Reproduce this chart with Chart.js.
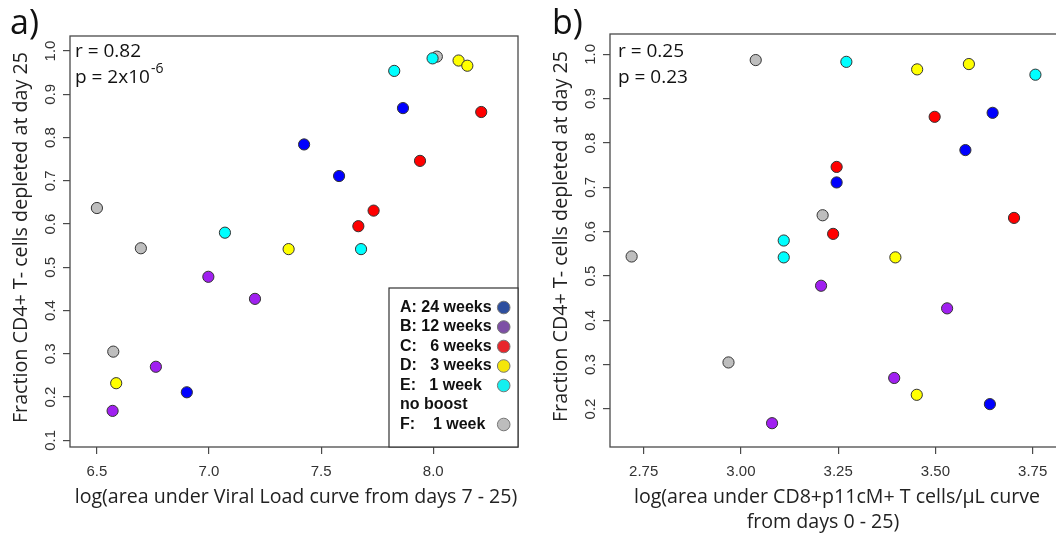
<!DOCTYPE html>
<html>
<head>
<meta charset="utf-8">
<script src="https://cdn.jsdelivr.net/npm/chart.js@4.4.1/dist/chart.umd.min.js"></script>
<style>
  html, body { margin: 0; padding: 0; background: #fff; overflow: hidden; width: 1056px; height: 535px; }
  #wrapA { position: absolute; left: 0; top: 0; width: 530px; height: 535px; }
  #wrapB { position: absolute; left: 530px; top: 0; width: 530px; height: 535px; }
</style>
</head>
<body>
<div id="wrapA"><canvas id="chartA" width="530" height="535"></canvas></div>
<div id="wrapB"><canvas id="chartB" width="530" height="535"></canvas></div>
<script>
// fraction of CD4+ T cells depleted at day 25, one array per group
const depA = [0.784, 0.711, 0.868, 0.211];
const depB = [0.478, 0.427, 0.270, 0.168];
const depC = [0.631, 0.595, 0.746, 0.859];
const depD = [0.542, 0.978, 0.966, 0.232];
const depE = [0.580, 0.542, 0.954, 0.983];
const depF = [0.637, 0.544, 0.987, 0.305];

// log(area under viral load curve, days 7-25)
const vlA = [7.424, 7.580, 7.865, 6.901];
const vlB = [6.997, 7.205, 6.763, 6.570];
const vlC = [7.734, 7.666, 7.941, 8.214];
const vlD = [7.355, 8.113, 8.152, 6.586];
const vlE = [7.071, 7.678, 7.826, 7.997];
const vlF = [6.500, 6.696, 8.016, 6.573];

// log(area under CD8+p11cM+ T cells/uL curve, days 0-25)
const cd8A = [3.577, 3.246, 3.647, 3.640];
const cd8B = [3.206, 3.530, 3.394, 3.080];
const cd8C = [3.702, 3.237, 3.246, 3.498];
const cd8D = [3.397, 3.586, 3.453, 3.452];
const cd8E = [3.110, 3.110, 3.757, 3.271];
const cd8F = [3.210, 2.719, 3.038, 2.968];

const groupNames = ['A: 24 weeks', 'B: 12 weeks', 'C:   6 weeks', 'D:   3 weeks', 'E:   1 week', 'F:    1 week'];
const pointColors = ['#0000ff', '#a020f0', '#ff0000', '#ffff00', '#00ffff', '#bebebe'];
const legendColors = ['#2d4e9e', '#7d4fa5', '#e8262b', '#f5e50a', '#14f0f0', '#bdbdbd'];
const legendLines = ['A: 24 weeks', 'B: 12 weeks', 'C:   6 weeks', 'D:   3 weeks', 'E:   1 week', 'no boost', 'F:    1 week'];
const legendSwatch = [0, 1, 2, 3, 4, null, 5];

const xTicksA = [6.5, 7.0, 7.5, 8.0];
const xTicksB = [2.75, 3.00, 3.25, 3.50, 3.75];

const deps = [depA, depB, depC, depD, depE, depF];
const vls = [vlA, vlB, vlC, vlD, vlE, vlF];
const cd8s = [cd8A, cd8B, cd8C, cd8D, cd8E, cd8F];

const titleFont = '"Open Sans", "Noto Sans", sans-serif';
const tickFamily = '"Liberation Sans", Arial, sans-serif';

function makeSets(xs) {
  return groupNames.map(function (name, g) {
    return {
      label: name,
      data: xs[g].map(function (x, i) { return { x: x, y: deps[g][i] }; }),
      backgroundColor: pointColors[g],
      borderColor: '#333',
      borderWidth: 1,
      pointRadius: 5.6,
      pointHoverRadius: 5.6
    };
  });
}

const decor = {
  id: 'decor',
  beforeDatasetsDraw(chart) {
    const ctx = chart.ctx, a = chart.chartArea;
    ctx.save();
    ctx.strokeStyle = '#4a4a4a';
    ctx.lineWidth = 1.3;
    ctx.strokeRect(a.left, a.top, a.right - a.left, a.bottom - a.top);
    ctx.restore();
  },
  afterDraw(chart, args, o) {
    const ctx = chart.ctx, a = chart.chartArea;
    ctx.save();

    // rotated y tick labels
    const ys = chart.scales.y;
    ctx.font = '15px ' + tickFamily;
    ctx.fillStyle = '#333';
    ctx.textAlign = 'center';
    ctx.textBaseline = 'middle';
    ys.ticks.forEach(function (t) {
      const py = ys.getPixelForValue(t.value);
      ctx.save();
      ctx.translate(a.left - 19, py);
      ctx.rotate(-Math.PI / 2);
      ctx.fillText(t.value.toFixed(1), 0, 0);
      ctx.restore();
    });

    // y title
    ctx.fillStyle = '#222';
    ctx.font = '19.7px ' + titleFont;
    ctx.save();
    ctx.translate(a.left - 49, (a.top + a.bottom) / 2 - 4);
    ctx.rotate(-Math.PI / 2);
    ctx.fillText('Fraction CD4+ T- cells depleted at day 25', 0, 0);
    ctx.restore();

    // x title
    ctx.font = '19.6px ' + titleFont;
    ctx.textBaseline = 'alphabetic';
    o.xTitle.forEach(function (line, i) {
      ctx.fillText(line, o.xTitleX[i], 503 + i * 25);
    });

    // panel letter
    ctx.textAlign = 'left';
    ctx.fillStyle = '#111';
    ctx.font = '34px ' + titleFont;
    ctx.fillText(o.letter, o.letterX, 34);

    // stats
    ctx.font = '19px ' + titleFont;
    const sx = a.left + o.statPad;
    ctx.fillText(o.rText, sx, 57);
    ctx.fillText(o.pText, sx, 83);
    if (o.pSup) {
      const w = ctx.measureText(o.pText).width;
      ctx.font = '14px ' + titleFont;
      ctx.fillText(o.pSup, sx + w + 1, 73);
    }

    // legend
    if (o.legend) {
      const lx = 389, ly = 288, lw = a.right - lx, lh = a.bottom - ly;
      ctx.fillStyle = '#fff';
      ctx.fillRect(lx, ly, lw, lh);
      ctx.strokeStyle = '#333';
      ctx.lineWidth = 1.2;
      ctx.strokeRect(lx, ly, lw, lh);
      ctx.font = 'bold 16px ' + tickFamily;
      ctx.textBaseline = 'middle';
      legendLines.forEach(function (line, i) {
        const cy = 307.5 + i * 19.5;
        ctx.fillStyle = '#111';
        ctx.fillText(line, 400, cy);
        const s = legendSwatch[i];
        if (s !== null) {
          ctx.beginPath();
          ctx.arc(503.7, cy, 6.3, 0, Math.PI * 2);
          ctx.fillStyle = legendColors[s];
          ctx.fill();
          ctx.strokeStyle = '#777';
          ctx.lineWidth = 1;
          ctx.stroke();
        }
      });
    }
    ctx.restore();
  }
};

function axisGrid() {
  return { display: true, drawOnChartArea: false, drawTicks: true, tickLength: 7, color: '#4a4a4a', lineWidth: 1.2 };
}

function makeChart(id, xs, xMin, xMax, xTicks, xDigits, yMin, yMax, yWidth, padTop, padRight, deco) {
  return new Chart(document.getElementById(id), {
    type: 'scatter',
    data: { datasets: makeSets(xs) },
    options: {
      responsive: false,
      animation: false,
      layout: { autoPadding: false, padding: { top: padTop, right: padRight, left: 0, bottom: 0 } },
      plugins: { legend: { display: false }, tooltip: { enabled: false }, decor: deco },
      scales: {
        x: {
          type: 'linear', min: xMin, max: xMax,
          afterFit: function (s) { s.height = 88; s.paddingLeft = 0; s.paddingRight = 0; },
          afterBuildTicks: function (s) { s.ticks = xTicks.map(function (v) { return { value: v }; }); },
          border: { display: false },
          grid: axisGrid(),
          ticks: {
            font: { family: tickFamily, size: 15 }, color: '#333', padding: 9,
            maxRotation: 0, autoSkip: false,
            callback: function (v) { return Number(v).toFixed(xDigits); }
          }
        },
        y: {
          type: 'linear', min: yMin, max: yMax,
          afterFit: function (s) { s.width = yWidth; s.paddingTop = 0; s.paddingBottom = 0; },
          border: { display: false },
          grid: axisGrid(),
          ticks: { display: false, stepSize: 0.1, includeBounds: false }
        }
      }
    },
    plugins: [decor]
  });
}

makeChart('chartA', vls, 6.38, 8.378, xTicksA, 1, 0.0845, 1.0347, 70, 36, 12, {
  letter: 'a)', letterX: 10, statPad: 5,
  rText: 'r = 0.82', pText: 'p = 2x10', pSup: '-6',
  xTitle: ['log(area under Viral Load curve from days 7 - 25)'], xTitleX: [296],
  legend: true
});

makeChart('chartB', cd8s, 2.6634, 3.8202, xTicksB, 2, 0.1143, 1.0458, 80, 34, 0, {
  letter: 'b)', letterX: 22, statPad: 8,
  rText: 'r = 0.25', pText: 'p = 0.23', pSup: '',
  xTitle: ['log(area under CD8+p11cM+ T cells/\u03bcL curve', 'from days 0 - 25)'], xTitleX: [307, 293],
  legend: false
});
</script>
</body>
</html>
